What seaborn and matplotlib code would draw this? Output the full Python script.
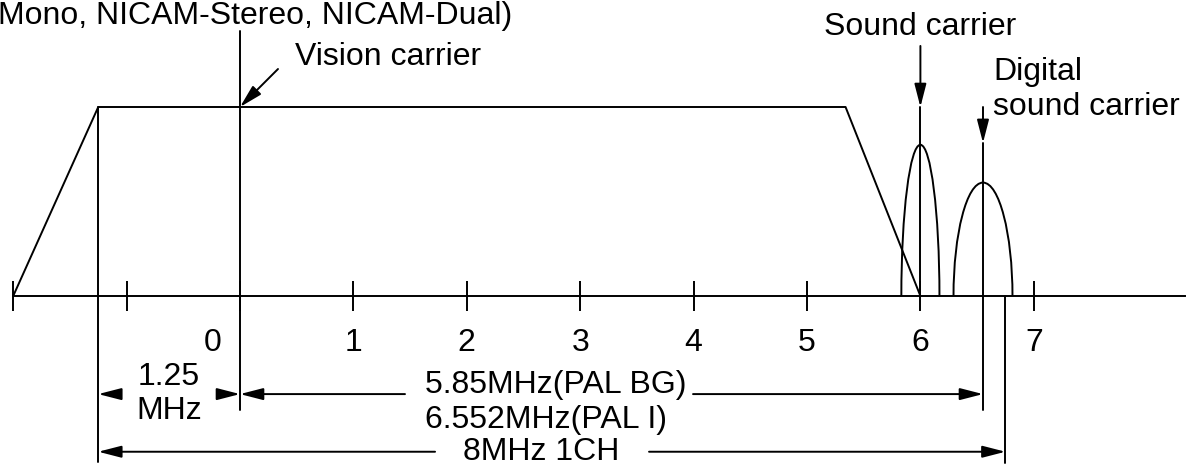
import matplotlib
matplotlib.use("Agg")
import matplotlib.pyplot as plt
from matplotlib.path import Path
from matplotlib.patches import PathPatch
from matplotlib.transforms import ScaledTranslation
import pandas as pd
import seaborn as sns

# Frequency axis, MHz relative to the vision carrier
tick_positions = [-2, -1, 0, 1, 2, 3, 4, 5, 6, 7]
tick_labels = ["", "", "0", "1", "2", "3", "4", "5", "6", "7"]

# Vision band envelope (normalized level vs frequency)
envelope_freq = [-2.0, -1.25, 5.34, 6.0]
envelope_level = [0.0, 1.0, 1.0, 0.0]

# Carrier frequencies and channel edges (MHz)
vision_carrier = 0.0
sound_carrier = 6.0
digital_carrier = 6.552
channel_low = -1.25
channel_high = 6.75

# Sound spectra lobes
lobe_centers = [6.0, 6.552]
lobe_halfwidths = [0.168, 0.26]
lobe_peaks = [0.80, 0.60]

sns.set_style("white")
plt.rcParams["font.family"] = ["Liberation Sans", "DejaVu Sans"]
plt.rcParams["text.color"] = "black"
FS = 23
LW = 1.4
INK = "black"

fig = plt.figure(figsize=(11.91, 4.69), dpi=100)
ax = fig.add_axes([0, 0, 1, 1])
ax.set_xlim(-240 / 113.4, (1191 - 240) / 113.4)
ax.set_ylim(-(469 - 296) / 189, 296 / 189)

# Envelope of the video spectrum
env = pd.DataFrame({"freq": envelope_freq, "level": envelope_level})
sns.lineplot(data=env, x="freq", y="level", sort=False, color=INK, lw=LW, ax=ax)

# Frequency axis drawn with the bottom spine through level 0
for side in ("top", "left", "right"):
    ax.spines[side].set_visible(False)
ax.spines["bottom"].set_position(("data", 0))
ax.spines["bottom"].set_bounds(-2, 8.33)
ax.spines["bottom"].set_linewidth(LW)
ax.spines["bottom"].set_color(INK)
ax.set_xticks(tick_positions)
ax.set_xticklabels(tick_labels)
ax.set_yticks([])
ax.tick_params(axis="x", direction="inout", length=22, width=LW, pad=12,
               labelsize=FS, colors=INK, labelcolor=INK, bottom=True)
ax.set_xlabel("")
ax.set_ylabel("")
for t, lab in zip(tick_positions, ax.get_xticklabels()):
    if t == 0:
        lab.set_transform(lab.get_transform()
                          + ScaledTranslation(-0.27, 0, fig.dpi_scale_trans))

# Sound lobes (rounded, near-elliptic outline)
K = 0.55
for c, w, h in zip(lobe_centers, lobe_halfwidths, lobe_peaks):
    verts = [(c - w, 0), (c - w, K * h), (c - K * w, h), (c, h),
             (c + K * w, h), (c + w, K * h), (c + w, 0)]
    codes = [Path.MOVETO] + [Path.CURVE4] * 6
    ax.add_patch(PathPatch(Path(verts, codes), fill=False, lw=LW, ec=INK))

# Carrier and channel-edge lines
ax.plot([vision_carrier] * 2, [1.402, -0.603], color=INK, lw=LW)
ax.plot([sound_carrier] * 2, [1.0, 0.0], color=INK, lw=LW)
ax.plot([digital_carrier] * 2, [0.81, -0.603], color=INK, lw=LW)
ax.plot([channel_low] * 2, [1.0, -0.878], color=INK, lw=LW)
ax.plot([channel_high] * 2, [0.0, -0.884], color=INK, lw=LW)

arrow = dict(arrowstyle="-|>,head_length=0.7,head_width=0.18", color=INK,
             lw=LW, shrinkA=0, shrinkB=0, mutation_scale=20)

def arrow_to(head, tail):
    ax.annotate("", xy=head, xytext=tail, arrowprops=arrow)

# Carrier labels and pointers
ax.text(0.485, 1.222, "Vision carrier", fontsize=FS, ha="left", va="baseline")
arrow_to((vision_carrier, 1.0), (0.335, 1.201))
ax.text(sound_carrier, 1.381, "Sound carrier", fontsize=FS, ha="center", va="baseline")
arrow_to((sound_carrier, 1.0), (sound_carrier, 1.323))
ax.text(6.64, 0.958, "Digital\nsound carrier", fontsize=FS, ha="left",
        va="baseline", linespacing=1.2)
arrow_to((digital_carrier, 0.81), (digital_carrier, 1.0))

# Heading (runs off the left edge)
ax.text(-2.135, 1.439, "Mono, NICAM-Stereo, NICAM-Dual)", fontsize=FS,
        ha="left", va="baseline")

# Dimension: 1.25 MHz lower vestigial band
y1 = -0.519
arrow_to((channel_low, y1), (-1.076, y1))
arrow_to((vision_carrier, y1), (-0.194, y1))
ax.text((channel_low + vision_carrier) / 2, y1, "1.25\nMHz", fontsize=FS,
        ha="center", va="center", linespacing=1.2)

# Dimension: vision to sound carrier spacing
arrow_to((vision_carrier, y1), (1.455, y1))
arrow_to((digital_carrier, y1), (3.995, y1))
ax.text(1.631, -0.698, "5.85MHz(PAL BG)\n6.552MHz(PAL I)", fontsize=FS,
        ha="left", va="baseline", linespacing=1.2)

# Dimension: full channel width
y2 = -0.824
arrow_to((channel_low, y2), (1.72, y2))
arrow_to((channel_high, y2), (3.607, y2))
ax.text(2.654, y2, "8MHz 1CH", fontsize=FS, ha="center", va="center")

fig.savefig("out.png", dpi=100)
